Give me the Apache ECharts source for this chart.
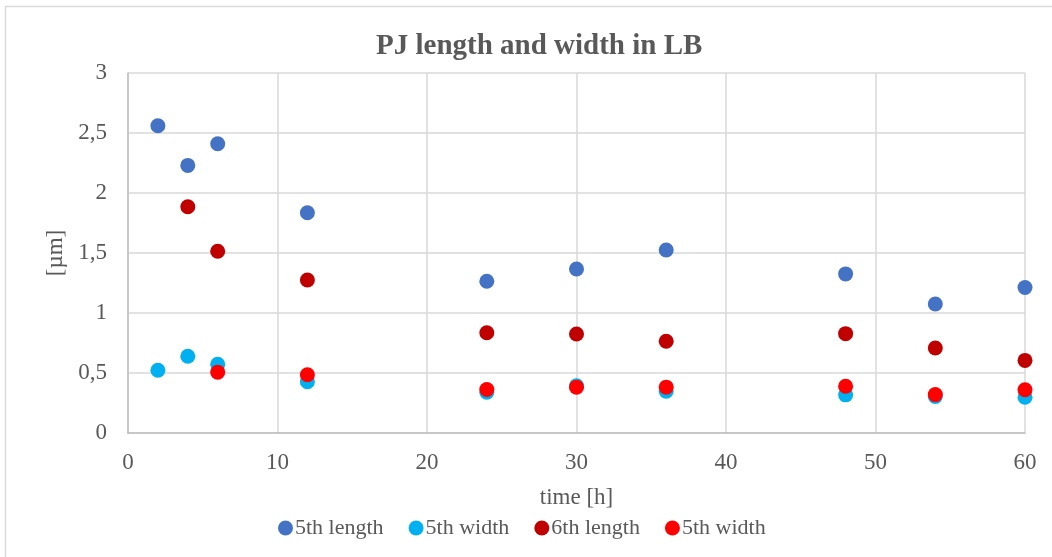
<!DOCTYPE html>
<html>
<head>
<meta charset="utf-8">
<script src="https://cdn.jsdelivr.net/npm/echarts@6/dist/echarts.min.js"></script>
<style>html,body{margin:0;padding:0;background:#fff}#c{width:1052px;height:557px}</style>
</head>
<body>
<div id="c"></div>
<script>
var times = [2, 4, 6, 12, 24, 30, 36, 48, 54, 60];
var len5 = [2.56, 2.23, 2.41, 1.835, 1.265, 1.367, 1.525, 1.326, 1.075, 1.212];
var wid5 = [0.523, 0.64, 0.573, 0.427, 0.34, 0.394, 0.348, 0.318, 0.304, 0.298];
var len6 = [null, 1.886, 1.514, 1.275, 0.836, 0.825, 0.764, 0.828, 0.708, 0.605];
var wid5b = [null, null, 0.507, 0.485, 0.363, 0.382, 0.382, 0.39, 0.32, 0.36];
var seriesNames = ['5th length', '5th width', '6th length', '5th width'];
var seriesColors = ['#4472C4', '#00B0F0', '#C00000', '#FF0000'];
var yTickLabels = ['0', '0,5', '1', '1,5', '2', '2,5', '3'];

function pairs(arr) {
  var out = [];
  for (var i = 0; i < times.length; i++) if (arr[i] != null) out.push([times[i], arr[i]]);
  return out;
}
var dataSets = [len5, wid5, len6, wid5b];
var ids = seriesNames.map(function (n, i) { return 's' + i; });
var font = '"Liberation Serif", "Times New Roman", serif';
var txt = '#595959';

var chart = echarts.init(document.getElementById('c'));
chart.setOption({
  animation: false,
  backgroundColor: '#fff',
  title: {
    text: 'PJ length and width in LB',
    left: 371, top: 27,
    textStyle: { fontFamily: font, fontSize: 29, fontWeight: 'bold', color: txt }
  },
  graphic: [{
    type: 'rect', shape: { x: 5.5, y: 6.5, width: 1100, height: 700 },
    style: { fill: 'none', stroke: '#d9d9d9', lineWidth: 1.5 }, silent: true, z: -1
  }],
  legend: {
    top: 512, left: 273, itemGap: 25, itemWidth: 15, itemHeight: 15,
    icon: 'circle',
    formatter: function (id) { return seriesNames[ids.indexOf(id)]; },
    textStyle: { fontFamily: font, fontSize: 22, color: txt, padding: [0, 0, 0, -3] },
    data: ids.map(function (n, i) { return { name: n, itemStyle: { color: seriesColors[i], opacity: 1 } }; })
  },
  grid: { left: 128, right: 27, top: 73, bottom: 124 },
  xAxis: {
    type: 'value', min: 0, max: 60, interval: 10,
    name: 'time [h]', nameLocation: 'middle', nameGap: 53,
    nameTextStyle: { fontFamily: font, fontSize: 23, color: txt },
    axisLine: { show: true, lineStyle: { color: '#bfbfbf', width: 1.5 } },
    axisTick: { show: false },
    axisLabel: { fontFamily: font, fontSize: 23, color: txt, margin: 18 },
    splitLine: { show: true, lineStyle: { color: '#d9d9d9', width: 1.5 } }
  },
  yAxis: {
    type: 'value', min: 0, max: 3, interval: 0.5,
    name: '[µm]', nameLocation: 'middle', nameGap: 59, nameRotate: 90,
    nameTextStyle: { fontFamily: font, fontSize: 23, color: txt },
    axisLine: { show: true, lineStyle: { color: '#bfbfbf', width: 1.5 } },
    axisTick: { show: false },
    axisLabel: {
      fontFamily: font, fontSize: 23, color: txt, margin: 21,
      formatter: function (v) { return yTickLabels[Math.round(v * 2)]; }
    },
    splitLine: { show: true, lineStyle: { color: '#d9d9d9', width: 1.5 } }
  },
  series: dataSets.map(function (arr, i) {
    return {
      name: ids[i], type: 'scatter', symbol: 'circle', symbolSize: 15,
      itemStyle: { color: seriesColors[i], opacity: 1 },
      data: pairs(arr)
    };
  })
});
</script>
</body>
</html>
